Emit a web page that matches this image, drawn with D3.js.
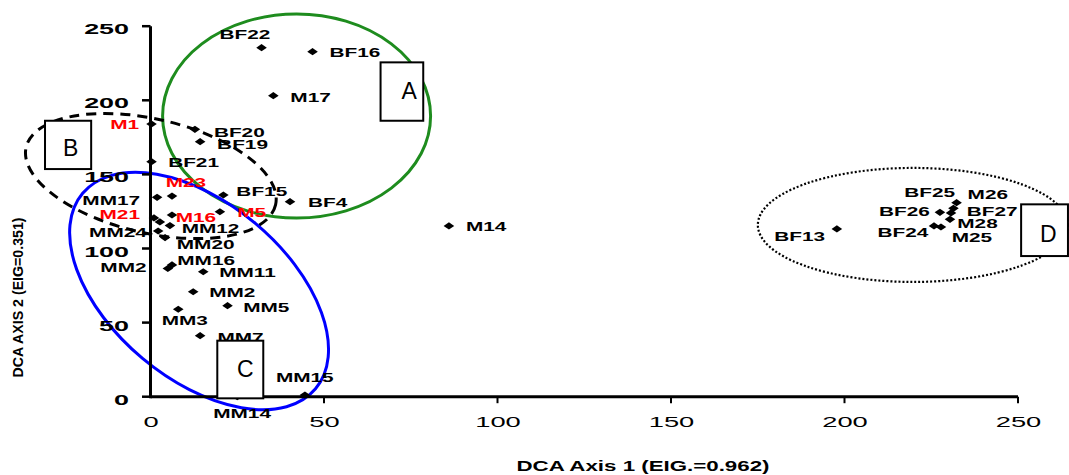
<!DOCTYPE html>
<html><head><meta charset="utf-8">
<script src="https://cdn.jsdelivr.net/npm/d3@7"></script>
<style>body{margin:0;background:#fff}</style>
</head><body>
<svg id="c" width="1069" height="475"></svg>
<script>
// ---------------- data ----------------
const sites = ["BF22","BF16","M17","BF20","BF19","BF15","BF4","M1","BF21","MM17","M23","M21","","M16","M5","MM12","MM24","MM20","MM16","MM2","MM11","MM2","MM5","MM3","MM7","MM15","MM14","M14","BF13","M26","BF25","BF26","BF27","M28","BF24","M25"];
const axis1 = [32.0,46.7,35.4,12.8,14.3,21.0,40.2,0.3,0.3,1.9,6.2,1.0,2.7,6.2,20.0,5.6,2.2,4.2,6.2,5.0,15.2,12.3,22.2,8.0,14.3,44.5,25.0,86.0,197.8,232.3,231.4,227.5,230.7,230.4,225.8,227.8];
const axis2 = [235.5,232.8,203.1,180.4,172.1,136.1,131.6,184.0,158.6,134.5,135.4,120.6,117.9,122.6,124.8,115.5,111.8,107.4,88.9,86.5,84.3,70.8,61.4,59.0,41.2,1.1,0.0,115.2,113.2,130.9,127.1,124.4,124.0,119.7,115.2,114.5];
const redSites = ["M1","M23","M21","M16","M5"];
const xTicks = [0,50,100,150,200,250];
const yTicks = [0,50,100,150,200,250];
const xTitle = "DCA Axis 1 (EIG.=0.962)";
const yTitle = "DCA AXIS 2 (EIG=0.351)";
const groupNames = ["A","B","C","D"];

// ---------------- layout (label placement, annotations) ----------------
const labelPlace = [
 ["start",-42,-8.5],["start",17,5],["start",17,6],["start",19,8],["start",17,7.6],["start",13,0.7],["start",18,5],
 ["end",-12.4,5],["start",16.6,5],["end",-17,7.7],["start",-6.3,-8.7],["end",-14,1.3],["start",0,0],["start",3.7,6.7],
 ["start",17.3,5],["start",11.7,7.2],["end",-11.3,5.7],["start",11.7,11.8],["start",5.3,0],["end",-21.3,3.2],
 ["start",16,5.6],["start",16,5.6],["start",15.6,6],["start",-16.6,15.7],["start",17.3,6],["start",-29,-13.3],
 ["start",-24,21.6],["start",17,5],["end",-11.7,11.7],["start",11,-3.4],["end",1.7,-11],["end",-10,3.4],
 ["start",15.7,2.7],["start",7.3,9],["end",-5.7,11.3],["start",10.7,14.7]
];
// ellipse centres in data units, radii in px, rotation in degrees
const ellCx = [42.1, 0.1, 14.0, 219.7];
const ellCy = [189.4, 148.9, 71.3, 115.9];
const ellRx = [134, 128, 152, 155];
const ellRy = [102, 57, 88, 57];
const ellRot = [0, 13, 40, 0];
const ellStroke = ["#1e8c1e","#000","#0000ff","#000"];
const ellDash = [null,"10,7",null,"2,2"];
const ellWidth = [3,3,3,2.2];
// boxes in data units
const boxX0 = [66.3,-30.4,19.25,250.9];
const boxX1 = [78.6,-17.1,32.5,264.4];
const boxY0 = [225.6,186.2,37.8,129.8];
const boxY1 = [186.2,153.6,-1.1,94.9];
const boxTx = [21,18,19.7,19];
const boxTy = [37,35,36.3,37.4];

// ---------------- drawing ----------------
const svg = d3.select("#c");
const x = d3.scaleLinear().domain([0,250]).range([150.5,1018]);
const y = d3.scaleLinear().domain([0,250]).range([396.7,26.2]);
const FONT = "'Liberation Sans', Arial, sans-serif";

// ellipses
groupNames.forEach((g,i)=>{
  svg.append("ellipse")
    .attr("transform",`translate(${x(ellCx[i])},${y(ellCy[i])}) rotate(${ellRot[i]})`)
    .attr("rx",ellRx[i]).attr("ry",ellRy[i])
    .attr("fill","none").attr("stroke",ellStroke[i]).attr("stroke-width",ellWidth[i])
    .attr("stroke-dasharray",ellDash[i]);
});

// axes
const gx = svg.append("g");
gx.append("line").attr("x1",x(0)).attr("x2",x(250)).attr("y1",y(0)).attr("y2",y(0))
  .attr("stroke","#000").attr("stroke-width",3);
gx.selectAll(".xt").data(xTicks.filter(d=>d>0)).join("line")
  .attr("x1",d=>x(d)).attr("x2",d=>x(d)).attr("y1",y(0)).attr("y2",y(0)+6.5)
  .attr("stroke","#000").attr("stroke-width",2);
gx.selectAll(".xl").data(xTicks).join("text")
  .attr("transform",d=>`translate(${x(d)+0.5},${y(0)+30.5}) scale(1.95,1)`)
  .attr("text-anchor","middle").attr("font-family",FONT).attr("font-size",14)
  .attr("fill","#000").text(d=>d);

const gy = svg.append("g");
gy.append("line").attr("x1",x(0)).attr("x2",x(0)).attr("y1",y(0)+1.5).attr("y2",y(250))
  .attr("stroke","#000").attr("stroke-width",3);
gy.selectAll(".yt").data(yTicks).join("line")
  .attr("x1",x(0)-8.5).attr("x2",x(0)).attr("y1",d=>y(d)).attr("y2",d=>y(d))
  .attr("stroke","#000").attr("stroke-width",2.5);
gy.selectAll(".yl").data(yTicks).join("text")
  .attr("transform",d=>`translate(129,${y(d)+8}) scale(1.92,1)`)
  .attr("text-anchor","end").attr("font-family",FONT).attr("font-weight","bold").attr("font-size",14)
  .attr("fill","#000").text(d=>d);

// titles
svg.append("text").attr("x",643).attr("y",470.7).attr("text-anchor","middle")
  .attr("font-family",FONT).attr("font-weight","bold").attr("font-size",15)
  .attr("textLength",253).attr("lengthAdjust","spacingAndGlyphs").text(xTitle);
svg.append("text").attr("transform","translate(23,297.5) rotate(-90)").attr("text-anchor","middle")
  .attr("font-family",FONT).attr("font-weight","bold").attr("font-size",14)
  .attr("textLength",160).attr("lengthAdjust","spacingAndGlyphs").text(yTitle);

// points
const pts = sites.map((s,i)=>({s, a1:axis1[i], a2:axis2[i], lp:labelPlace[i]}));
const diamond = "M-5.3,0L0,-3.6L5.3,0L0,3.6Z";
svg.append("g").selectAll("path").data(pts).join("path")
  .attr("d",diamond).attr("transform",d=>`translate(${x(d.a1)},${y(d.a2)})`).attr("fill","#000");

svg.append("g").selectAll("text").data(pts.filter(d=>d.s)).join("text")
  .attr("transform",d=>`translate(${x(d.a1)+d.lp[1]},${y(d.a2)+d.lp[2]}) scale(1.6,1)`)
  .attr("text-anchor",d=>d.lp[0])
  .attr("font-family",FONT).attr("font-weight","bold").attr("font-size",13)
  .attr("fill",d=>redSites.includes(d.s)?"#ff0000":"#000")
  .text(d=>d.s);

// boxes
groupNames.forEach((g,i)=>{
  const bx = x(boxX0[i]), by = y(boxY0[i]);
  const bw = x(boxX1[i]) - bx, bh = y(boxY1[i]) - by;
  svg.append("rect").attr("x",bx).attr("y",by).attr("width",bw).attr("height",bh)
    .attr("fill","#fff").attr("stroke","#000").attr("stroke-width",2);
  svg.append("text").attr("x",bx+boxTx[i]).attr("y",by+boxTy[i])
    .attr("font-family",FONT).attr("font-size",23).attr("fill","#000").text(g);
});
</script>
</body></html>
